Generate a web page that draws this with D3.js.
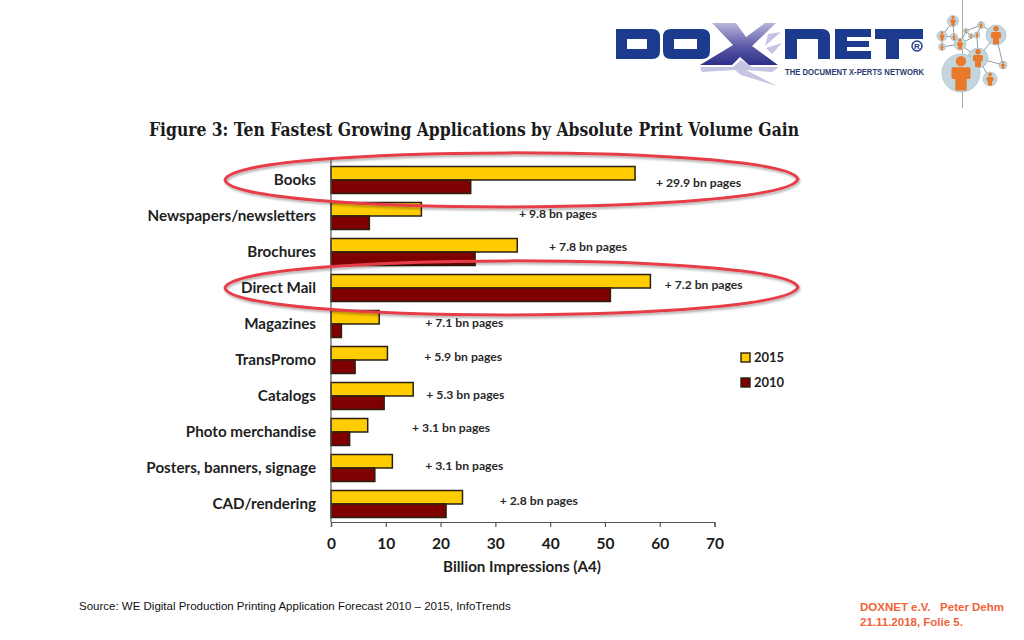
<!DOCTYPE html>
<html>
<head>
<meta charset="utf-8">
<script src="https://cdn.jsdelivr.net/npm/d3@7/dist/d3.min.js"></script>
<style>
  html, body { margin: 0; padding: 0; background: #fff; }
  svg { display: block; }
  text { font-family: Lato, "Open Sans", sans-serif; }
  text.arial { font-family: "Liberation Sans", Arial, sans-serif; white-space: pre; }
  text.title { font-family: "DejaVu Serif", serif; }
</style>
</head>
<body>
<div id="chart"></div>
<script>
// values
var categories = ["Books", "Newspapers/newsletters", "Brochures", "Direct Mail", "Magazines",
  "TransPromo", "Catalogs", "Photo merchandise", "Posters, banners, signage", "CAD/rendering"];
var values2015 = [55.5, 16.5, 34, 58.3, 8.8, 10.3, 15, 6.7, 11.2, 24];
var values2010 = [25.5, 7, 26.3, 51, 1.9, 4.4, 9.7, 3.4, 8, 21];
var gains = ["+ 29.9 bn pages", "+ 9.8 bn pages", "+ 7.8 bn pages", "+ 7.2 bn pages", "+ 7.1 bn pages",
  "+ 5.9 bn pages", "+ 5.3 bn pages", "+ 3.1 bn pages", "+ 3.1 bn pages", "+ 2.8 bn pages"];
var xTicks = [0, 10, 20, 30, 40, 50, 60, 70];
var circled = ["Books", "Direct Mail"];

// where the hand placed gain labels sit: left edge in axis units, y shift from the band centre
var gainLabelX = [59.3, 34.3, 39.8, 60.9, 17.2, 17, 17.4, 14.8, 17.2, 30.8];
var gainLabelDy = [3, -2, -5, -3, -1, -3, -1, -4, -2, -3];

var svg = d3.select("#chart").append("svg").attr("width", 1024).attr("height", 640);

var defs = svg.append("defs");
var shadow = defs.append("filter").attr("id", "shadow")
  .attr("x", "-5%").attr("y", "-30%").attr("width", "110%").attr("height", "160%");
shadow.append("feDropShadow").attr("dx", 1).attr("dy", 2).attr("stdDeviation", 1.2)
  .attr("flood-color", "#000").attr("flood-opacity", 0.3);
var xGrad = defs.append("linearGradient").attr("id", "xgrad").attr("x1", 0).attr("y1", 0).attr("x2", 0).attr("y2", 1);
xGrad.append("stop").attr("offset", "0%").attr("stop-color", "#b9b6dc");
xGrad.append("stop").attr("offset", "55%").attr("stop-color", "#5d5aa8");
xGrad.append("stop").attr("offset", "100%").attr("stop-color", "#2c2e88");

// scales
var xScale = d3.scaleLinear().domain([0, 70]).range([331, 714.5]);
var yScale = d3.scaleBand().domain(categories).range([162, 522]);
var bandH = 13.5;

// title
svg.append("text")
  .attr("class", "title")
  .attr("x", 149).attr("y", 136)
  .attr("textLength", 650).attr("lengthAdjust", "spacingAndGlyphs")
  .style("font-weight", "bold").style("font-size", "18px").attr("fill", "#1a1a1a")
  .text("Figure 3: Ten Fastest Growing Applications by Absolute Print Volume Gain");

// bars
var rows = categories.map((c, i) => ({ name: c, v15: values2015[i], v10: values2010[i], gain: gains[i], i: i }));
var bars = svg.append("g").attr("class", "bars");
var drawBars = (field, color, offset) => {
  bars.selectAll("." + field)
    .data(rows)
    .enter()
    .append("rect")
    .attr("class", field)
    .attr("x", xScale(0))
    .attr("y", d => yScale(d.name) + yScale.bandwidth() / 2 + offset)
    .attr("width", d => xScale(d[field]) - xScale(0))
    .attr("height", bandH)
    .attr("fill", color)
    .attr("stroke", "#2a2010")
    .attr("stroke-width", 1.5);
};
drawBars("v15", "#ffcc00", -bandH);
drawBars("v10", "#7f0000", 0);

// axes
var xAxis = d3.axisBottom(xScale).tickValues(xTicks).tickSize(5).tickPadding(11);
var xG = svg.append("g").attr("transform", "translate(0,522)").call(xAxis);
xG.select(".domain").attr("stroke", "#555").attr("stroke-width", 1.2);
xG.selectAll(".tick line").attr("stroke", "#555").attr("stroke-width", 1.2);
xG.selectAll("text").style("font-size", "15.5px").style("font-weight", "bold")
  .style("font-family", "Lato, sans-serif").attr("fill", "#1a1a1a");

var yAxis = d3.axisLeft(yScale).tickSize(0).tickPadding(15);
var yG = svg.append("g").attr("transform", "translate(331,0)").call(yAxis);
yG.select(".domain").attr("stroke", "#555").attr("stroke-width", 1.2).attr("d", "M0,157V522");
yG.selectAll("text").style("font-size", "15.2px").style("font-weight", "bold")
  .style("font-family", "Lato, sans-serif").attr("fill", "#1f1f1f");

svg.append("text")
  .attr("x", 522).attr("y", 572).attr("text-anchor", "middle")
  .style("font-size", "15.2px").style("font-weight", "bold").attr("fill", "#1f1f1f")
  .text("Billion Impressions (A4)");

// gain labels
svg.selectAll(".gain")
  .data(rows)
  .enter()
  .append("text")
  .attr("class", "gain")
  .attr("x", d => xScale(gainLabelX[d.i]))
  .attr("y", d => yScale(d.name) + yScale.bandwidth() / 2 + gainLabelDy[d.i] + 4)
  .style("font-size", "12.2px").style("font-weight", "bold").attr("fill", "#2a2a2a")
  .text(d => d.gain);

// legend
var legend = svg.selectAll(".legend")
  .data([{ label: "2015", color: "#ffcc00", y: 353 }, { label: "2010", color: "#7f0000", y: 378 }])
  .enter().append("g").attr("class", "legend");
legend.append("rect")
  .attr("x", 741).attr("y", d => d.y).attr("width", 9).attr("height", 9)
  .attr("fill", d => d.color).attr("stroke", "#2a2010").attr("stroke-width", 1.4);
legend.append("text")
  .attr("x", 754).attr("y", d => d.y + 8.7)
  .style("font-size", "13px").style("font-weight", "bold").attr("fill", "#1f1f1f")
  .text(d => d.label);

// red lens shapes round the highlighted rows, a bit pointier than an ellipse
var ringPath = name => {
  var cy = yScale(name) + yScale.bandwidth() / 2;
  var p = d3.path();
  p.moveTo(225, cy);
  p.bezierCurveTo(232, cy - 36, 785, cy - 36, 798, cy - 1);
  p.bezierCurveTo(785, cy + 36, 232, cy + 36, 225, cy);
  p.closePath();
  return p.toString();
};
svg.selectAll(".ring")
  .data(circled)
  .enter()
  .append("path")
  .attr("class", "ring")
  .attr("d", ringPath)
  .attr("fill", "none")
  .attr("stroke", "#e63e48")
  .attr("stroke-width", 3)
  .attr("stroke-linejoin", "round")
  .attr("filter", "url(#shadow)");

// footer
svg.append("text").attr("class", "arial").attr("x", 79).attr("y", 610)
  .style("font-size", "11.5px").attr("fill", "#111")
  .text("Source: WE Digital Production Printing Application Forecast 2010 \u2013 2015, InfoTrends");
svg.append("text").attr("class", "arial").attr("x", 860).attr("y", 611)
  .style("font-size", "11.5px").style("font-weight", "bold").attr("fill", "#f0643a")
  .text("DOXNET e.V.   Peter Dehm");
svg.append("text").attr("class", "arial").attr("x", 860).attr("y", 626)
  .style("font-size", "11.5px").style("font-weight", "bold").attr("fill", "#f0643a")
  .text("21.11.2018, Folie 5.");

// logo
var logo = svg.append("g").attr("class", "logo");
var navy = "#1c3a8e";
var lilac = "#c6c4e2";
// D
logo.append("path").attr("fill", navy).attr("fill-rule", "evenodd")
  .attr("d", "M616,29H652Q660,29 660,37V51Q660,59 652,59H616ZM627,39V49H647V39Z");
// O
logo.append("path").attr("fill", navy).attr("fill-rule", "evenodd")
  .attr("d", "M671,29H702Q710,29 710,37V51Q710,59 702,59H671Q663,59 663,51V37Q663,29 671,29ZM674,39V49H697V39Z");
// X and its fanned shadow
logo.append("path").attr("fill", lilac)
  .attr("d", "M700,67H733L741,60L752,67H779L772,72L746,70L777,86L741,75L735,70L702,72Z");
logo.append("path").attr("fill", lilac).attr("d", "M768,34L781,32L765,46Z");
logo.append("path").attr("fill", lilac).attr("d", "M766,48L782,43L772,54Z");
logo.append("path").attr("fill", "url(#xgrad)")
  .attr("d", "M712,23H736L746,37L765,23H776L752,46L778,65H749L740,57L732,65H700L733,45Z");
// N
logo.append("path").attr("fill", navy)
  .attr("d", "M785,29H822Q830,29 830,37V59H818V39H797V59H785Z");
// E
logo.append("path").attr("fill", navy)
  .attr("d", "M835,29H871V37H847V41H869V47H847V51H871V59H835Z");
// T
logo.append("path").attr("fill", navy)
  .attr("d", "M875,29H923V39H899V59H886V39H875Z");
logo.append("circle").attr("cx", 917).attr("cy", 46).attr("r", 5).attr("fill", "none").attr("stroke", navy).attr("stroke-width", 1.4);
logo.append("text").attr("class", "arial").attr("x", 917).attr("y", 49).attr("text-anchor", "middle")
  .style("font-size", "8px").style("font-weight", "bold")
  .attr("fill", navy).text("R");
logo.append("text").attr("class", "arial").attr("x", 785).attr("y", 75)
  .attr("textLength", 139).attr("lengthAdjust", "spacingAndGlyphs")
  .style("font-size", "8.5px").style("font-weight", "bold").attr("fill", "#2d3a6e")
  .text("THE DOCUMENT X-PERTS NETWORK");

// network icon
logo.append("line").attr("x1", 962.5).attr("x2", 962.5).attr("y1", 0).attr("y2", 108).attr("stroke", "#a8a8a8");
var nodes = [[953, 21, 5.5], [942, 36, 5], [942, 47, 3.5], [954, 37, 3.5], [960, 44, 6], [981, 25, 3.5], [966, 31, 2.5],
  [971, 36, 2.5], [977, 35, 3], [996, 35, 10], [978, 58, 10], [1003, 65, 4], [961, 73, 19], [990, 79, 7]];
var links = [[0, 1], [1, 3], [1, 2], [3, 4], [0, 3], [2, 4], [4, 6], [6, 5], [6, 7], [7, 8], [8, 5], [4, 8], [8, 10], [9, 10],
  [10, 11], [10, 13], [10, 12], [9, 11], [4, 10], [5, 9]];
logo.selectAll(".link")
  .data(links)
  .enter().append("line")
  .attr("x1", d => nodes[d[0]][0]).attr("y1", d => nodes[d[0]][1])
  .attr("x2", d => nodes[d[1]][0]).attr("y2", d => nodes[d[1]][1])
  .attr("stroke", "#8d9dab").attr("stroke-width", 1);
logo.selectAll(".node")
  .data(nodes)
  .enter().append("circle")
  .attr("cx", d => d[0]).attr("cy", d => d[1]).attr("r", d => d[2])
  .attr("fill", "#c3d6de").attr("stroke", "#a9bac3").attr("stroke-width", 0.7);
// little orange people inside the nodes
var person = logo.selectAll(".person")
  .data(nodes)
  .enter().append("g").attr("fill", "#e8792a");
person.append("circle")
  .attr("cx", d => d[0]).attr("cy", d => d[1] - d[2] * 0.62).attr("r", d => d[2] * 0.27);
person.append("rect")
  .attr("x", d => d[0] - d[2] * 0.5).attr("y", d => d[1] - d[2] * 0.3)
  .attr("width", d => d[2]).attr("height", d => d[2] * 0.62).attr("rx", 1.5);
person.append("rect")
  .attr("x", d => d[0] - d[2] * 0.3).attr("y", d => d[1] + d[2] * 0.2)
  .attr("width", d => d[2] * 0.6).attr("height", d => d[2] * 0.72).attr("rx", 1);
</script>
</body>
</html>
